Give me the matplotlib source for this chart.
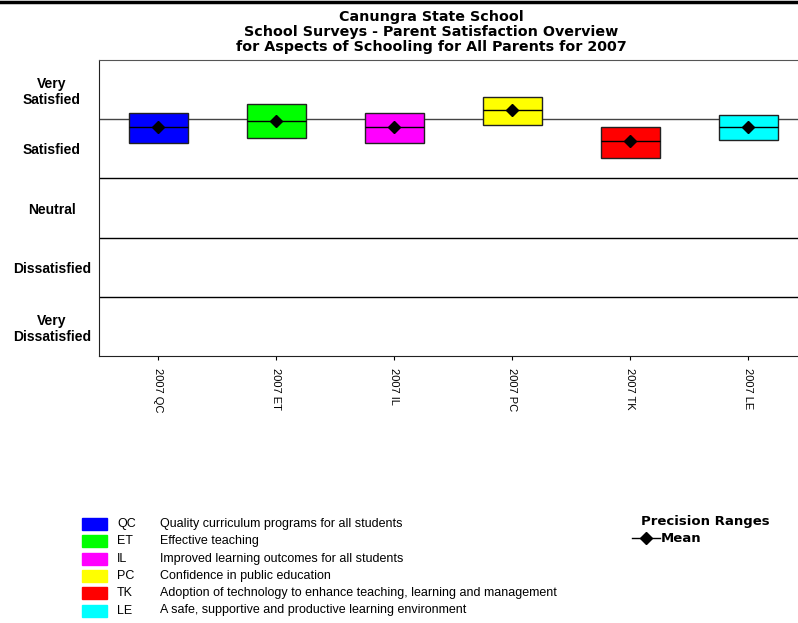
import numpy as np
import matplotlib.pyplot as plt
from matplotlib.lines import Line2D
from matplotlib.patches import Rectangle

# survey data (1 = very dissatisfied ... 5 = very satisfied)
codes = ["QC", "ET", "IL", "PC", "TK", "LE"]
descs = ["Quality curriculum programs for all students",
         "Effective teaching",
         "Improved learning outcomes for all students",
         "Confidence in public education",
         "Adoption of technology to enhance teaching, learning and management",
         "A safe, supportive and productive learning environment"]
colors = ["#0000ff", "#00ff00", "#ff00ff", "#ffff00", "#ff0000", "#00ffff"]
low = [4.10, 4.18, 4.10, 4.40, 3.85, 4.15]
high = [4.61, 4.76, 4.61, 4.88, 4.37, 4.57]
mean = [4.37, 4.47, 4.37, 4.66, 4.13, 4.37]
levels = ["Very\nDissatisfied", "Dissatisfied", "Neutral", "Satisfied", "Very\nSatisfied"]
year = "2007"

fig = plt.figure(figsize=(7.98, 6.23), dpi=100)
ax = fig.add_axes([99/798, 1-356/623, 699/798, 296/623])

x = np.arange(len(codes))
low = np.array(low); high = np.array(high)
ax.bar(x, high-low, bottom=low, width=0.5, color=colors, edgecolor="#222222", linewidth=1, zorder=3)
ax.hlines(mean, x-0.25, x+0.25, color="black", linewidth=1, zorder=4)
ax.plot(x, mean, linestyle="none", marker="D", markersize=6.5, color="black", zorder=5)

# band separators
for yv in [1.5, 2.5, 3.5]:
    ax.axhline(yv, color="black", linewidth=1, zorder=1)
ax.axhline(4.5, color="#444444", linewidth=1, zorder=1)

ax.set_xlim(-0.5, -0.5 + 699/118)
ax.set_ylim(0.5, 5.5)
ax.set_yticks(range(1, 6))
ax.set_yticklabels(levels, fontsize=10, fontweight="bold", family="Liberation Sans", ha="center")
ax.tick_params(axis="y", length=0, pad=34)
ax.set_xticks(x)
ax.set_xticklabels([year + " " + c for c in codes], rotation=-90, fontsize=8,
                   family="Liberation Sans", va="top")
ax.tick_params(axis="x", length=3, pad=6)
ax.spines["right"].set_visible(False)
for s in ["left", "bottom"]:
    ax.spines[s].set_color("#222222")
ax.spines["top"].set_color("#555555")

# title
fig.text(431/798, 1-32/623, "Canungra State School\nSchool Surveys - Parent Satisfaction Overview\n"
         "for Aspects of Schooling for All Parents for 2007",
         ha="center", va="center", fontsize=10.3, fontweight="bold", linespacing=1.1)
fig.add_artist(Line2D([0, 1], [1-1.5/623, 1-1.5/623], color="black", linewidth=2.5))

# category legend
for i, (c, d, col) in enumerate(zip(codes, descs, colors)):
    yc = 1 - (524 + i*17.3)/623
    fig.add_artist(Rectangle((82/798, yc-6/623), 25/798, 12/623, color=col,
                             transform=fig.transFigure))
    fig.text(117/798, yc, c, va="center", fontsize=9, family="Liberation Sans")
    fig.text(160/798, yc, d, va="center", fontsize=9, family="Liberation Sans")

# precision ranges legend
fig.text(641/798, 1-521/623, "Precision Ranges", va="center", fontsize=9.5, fontweight="bold")
fig.add_artist(Line2D([632/798, 660/798], [1-538/623]*2, color="black", linewidth=1))
fig.add_artist(Line2D([646/798], [1-538/623], color="black", marker="D", markersize=6))
fig.text(661/798, 1-538/623, "Mean", va="center", fontsize=9.5, fontweight="bold")

fig.savefig("out.png", dpi=100)
